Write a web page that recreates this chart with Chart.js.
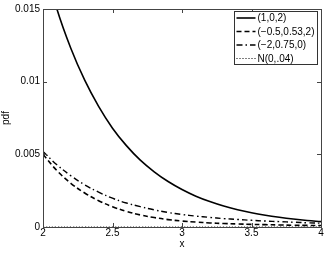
<!DOCTYPE html>
<html lang="en">
<head>
  <meta charset="UTF-8">
  <title>pdf tails</title>
  <script src="https://cdn.jsdelivr.net/npm/chart.js"></script>
  <style>
    html, body { margin: 0; padding: 0; background: #fff; }
  </style>
</head>
<body>
<canvas id="pdfChart" width="327" height="253"></canvas>

<script>
  // values, x step 0.1
  const xs = [2.0, 2.1, 2.2, 2.3, 2.4, 2.5, 2.6, 2.7, 2.8, 2.9, 3.0,
              3.1, 3.2, 3.3, 3.4, 3.5, 3.6, 3.7, 3.8, 3.9, 4.0];
  const pdfA = [0.0185, 0.0150, 0.0123, 0.0101, 0.0083, 0.0068, 0.0056, 0.0046, 0.0038, 0.00313, 0.00258,
                0.00212, 0.00175, 0.00144, 0.00119, 0.00098, 0.00081, 0.00067, 0.00055, 0.00045, 0.00037];
  const pdfB = [0.0050, 0.00388, 0.00301, 0.00234, 0.00181, 0.0014, 0.00108, 0.00083, 0.00065, 0.00051, 0.00041,
                0.00034, 0.00028, 0.00024, 0.00021, 0.00018, 0.00016, 0.00014, 0.00012, 0.00011, 0.0001];
  const pdfC = [0.0052, 0.00428, 0.00353, 0.0029, 0.0024, 0.00198, 0.00165, 0.0014, 0.00118, 0.001, 0.00086,
                0.00075, 0.00066, 0.00058, 0.00052, 0.00046, 0.00041, 0.00037, 0.00033, 0.00029, 0.00026];
  const pdfN = [0, 0, 0, 0, 0, 0, 0, 0, 0, 0, 0, 0, 0, 0, 0, 0, 0, 0, 0, 0, 0];
  const seriesNames = ['(1,0,2)', '(\u22120.5,0.53,2)', '(\u22122,0.75,0)', 'N(0,.04)'];
  const xTicks = [2, 2.5, 3, 3.5, 4];
  const yTicks = [0, 0.005, 0.01, 0.015];

  const toPts = arr => xs.map((x, i) => ({ x: x, y: arr[i] }));

  const styles = [
    { borderWidth: 1.6, borderDash: [] },
    { borderWidth: 1.6, borderDash: [5, 3] },
    { borderWidth: 1.4, borderDash: [6, 3, 1.5, 3] },
    { borderWidth: 1, borderDash: [1, 2] }
  ];

  const FONT = { family: '"Liberation Sans", Arial, sans-serif', size: 10 };

  // MATLAB-like box with inward ticks on all four sides, plus the legend
  const matlabBox = {
    id: 'matlabBox',
    afterDatasetsDraw(chart) {
      const { ctx, chartArea: a, scales } = chart;
      ctx.save();
      ctx.strokeStyle = '#444';
      ctx.lineWidth = 1;
      ctx.strokeRect(Math.round(a.left) + 0.5, Math.round(a.top) + 0.5,
                     Math.round(a.right - a.left), Math.round(a.bottom - a.top));
      const tl = 4;
      ctx.beginPath();
      scales.x.ticks.forEach(t => {
        const px = Math.round(scales.x.getPixelForValue(t.value)) + 0.5;
        ctx.moveTo(px, a.bottom); ctx.lineTo(px, a.bottom - tl);
        ctx.moveTo(px, a.top); ctx.lineTo(px, a.top + tl);
      });
      scales.y.ticks.forEach(t => {
        const py = Math.round(scales.y.getPixelForValue(t.value)) + 0.5;
        ctx.moveTo(a.left, py); ctx.lineTo(a.left + tl, py);
        ctx.moveTo(a.right, py); ctx.lineTo(a.right - tl, py);
      });
      ctx.stroke();

      // legend
      const bx = Math.round(a.right) - 86.5, by = Math.round(a.top) + 2.5, bw = 83, bh = 53;
      ctx.fillStyle = '#fff';
      ctx.fillRect(bx, by, bw, bh);
      ctx.strokeStyle = '#333';
      ctx.strokeRect(bx, by, bw, bh);
      ctx.font = FONT.size + 'px ' + FONT.family;
      ctx.textBaseline = 'middle';
      ctx.fillStyle = '#000';
      chart.data.datasets.forEach((ds, i) => {
        const y = by + 6.5 + i * 13.5;
        ctx.save();
        ctx.strokeStyle = ds.borderColor;
        ctx.lineWidth = ds.borderWidth;
        ctx.setLineDash(ds.borderDash);
        ctx.beginPath();
        ctx.moveTo(bx + 2, y); ctx.lineTo(bx + 21, y);
        ctx.stroke();
        ctx.restore();
        ctx.fillText(ds.label, bx + 23, y + 0.5);
      });
      ctx.restore();
    }
  };

  const ctx = document.getElementById('pdfChart').getContext('2d');
  const pdfChart = new Chart(ctx, {
    type: 'line',
    data: {
      datasets: [pdfA, pdfB, pdfC, pdfN].map((arr, i) => ({
        label: seriesNames[i],
        data: toPts(arr),
        borderColor: '#000',
        borderWidth: styles[i].borderWidth,
        borderDash: styles[i].borderDash,
        pointRadius: 0,
        fill: false,
        tension: 0.4
      }))
    },
    options: {
      responsive: false,
      animation: false,
      devicePixelRatio: 1,
      layout: { padding: { top: 7, right: 6, left: 0, bottom: 0 } },
      plugins: {
        legend: { display: false },
        tooltip: { enabled: false }
      },
      scales: {
        x: {
          type: 'linear',
          min: 2,
          max: 4,
          afterBuildTicks: s => { s.ticks = xTicks.map(v => ({ value: v })); },
          afterFit: s => { s.height = 26; },
          grid: { display: false, drawTicks: false },
          border: { display: false },
          ticks: { color: '#000', font: FONT, padding: 0, maxRotation: 0, callback: v => String(v) },
          title: { display: true, text: 'x', color: '#000', font: FONT, padding: { top: 0, bottom: 3 } }
        },
        y: {
          type: 'linear',
          min: 0,
          max: 0.015,
          afterBuildTicks: s => { s.ticks = yTicks.map(v => ({ value: v })); },
          afterFit: s => { s.width = 43; },
          grid: { display: false, drawTicks: false },
          border: { display: false },
          ticks: { color: '#000', font: FONT, padding: 3, callback: v => String(v) },
          title: { display: true, text: 'pdf', color: '#000', font: FONT, padding: { top: 0, bottom: 0 } }
        }
      }
    },
    plugins: [matlabBox]
  });
</script>
</body>
</html>
